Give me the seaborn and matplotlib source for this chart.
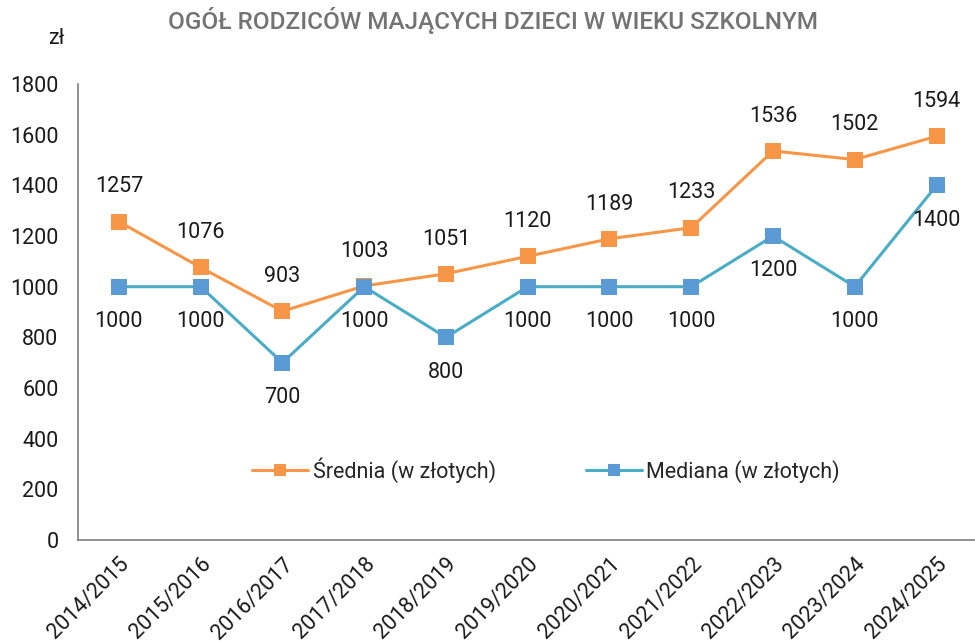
import matplotlib
matplotlib.use("Agg")
import matplotlib.pyplot as plt
import seaborn as sns
import pandas as pd

years = ["2014/2015", "2015/2016", "2016/2017", "2017/2018", "2018/2019", "2019/2020",
         "2020/2021", "2021/2022", "2022/2023", "2023/2024", "2024/2025"]
srednia = [1257, 1076, 903, 1003, 1051, 1120, 1189, 1233, 1536, 1502, 1594]
mediana = [1000, 1000, 700, 1000, 800, 1000, 1000, 1000, 1200, 1000, 1400]
yticks = [0, 200, 400, 600, 800, 1000, 1200, 1400, 1600, 1800]

sns.set_theme(style="white")
plt.rcParams['font.family'] = ['Roboto', 'DejaVu Sans']

df = pd.DataFrame({"rok": years, "Średnia (w złotych)": srednia, "Mediana (w złotych)": mediana})
df["x"] = range(len(years))

fig = plt.figure(figsize=(9.75, 6.42), dpi=100)
ax = fig.add_axes([0.08, 0.159, 0.92, 0.71])

orange = "#F79646"
teal = "#4BACC6"
blue = "#5B9BD5"
FS = 15.5

sns.lineplot(data=df, x="x", y="Średnia (w złotych)", ax=ax, color=orange, lw=2.2,
             marker="s", markersize=11, markeredgewidth=0, markerfacecolor=orange,
             label="Średnia (w złotych)")
sns.lineplot(data=df, x="x", y="Mediana (w złotych)", ax=ax, color=teal, lw=2.2,
             marker="s", markersize=11, markeredgewidth=0, markerfacecolor=blue,
             label="Mediana (w złotych)")

for i, v in enumerate(srednia):
    ax.annotate(str(v), (i, v), xytext=(0, 25), textcoords="offset points",
                ha="center", va="center", fontsize=FS, color="#1a1a1a")
for i, v in enumerate(mediana):
    ax.annotate(str(v), (i, v), xytext=(0, -25), textcoords="offset points",
                ha="center", va="center", fontsize=FS, color="#1a1a1a")

ax.set_xlim(-0.5, 10.47)
ax.set_ylim(0, 1800)
ax.set_yticks(yticks)
ax.set_yticklabels([str(t) for t in yticks], fontsize=FS, color="#1a1a1a")
ax.set_xticks(range(len(years)))
ax.set_xticklabels(years, rotation=45, ha="right", rotation_mode="anchor", fontsize=FS, color="#1a1a1a")
ax.tick_params(axis="both", length=0)
ax.tick_params(axis="y", pad=14)
ax.tick_params(axis="x", pad=10)
ax.set_xlabel("")
ax.set_ylabel("")
for s in ["top", "right"]:
    ax.spines[s].set_visible(False)
for s in ["left", "bottom"]:
    ax.spines[s].set_color("#7f7f7f")
    ax.spines[s].set_linewidth(1.2)

leg = ax.legend(loc="center", bbox_to_anchor=(0.522, 0.153), ncol=2, frameon=False,
                fontsize=FS, columnspacing=4.2, handlelength=2.6, handletextpad=0.2,
                markerscale=0.75)

fig.text(0.506, 0.968, "OGÓŁ RODZICÓW MAJĄCYCH DZIECI W WIEKU SZKOLNYM", ha="center", va="center",
         fontsize=17.5, fontweight="medium", color="#737373")
fig.text(0.058, 0.94, "zł", ha="center", va="center", fontsize=FS, color="#1a1a1a")

fig.savefig("out.png", dpi=100)
